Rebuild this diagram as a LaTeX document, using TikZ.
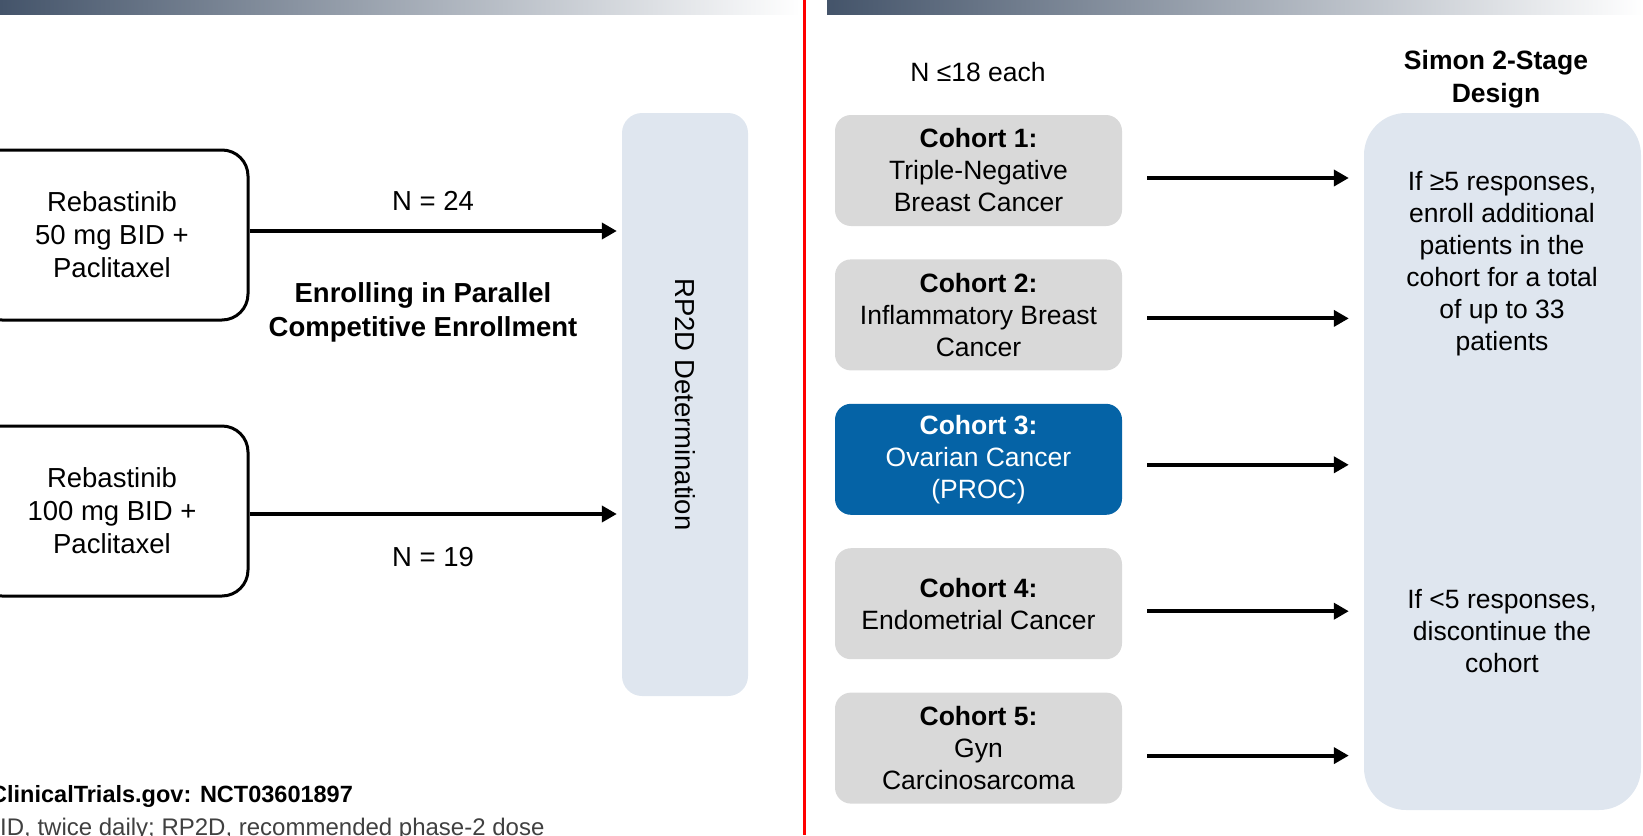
\documentclass[tikz,border=0pt]{standalone}
\usepackage{fontspec}
\setmainfont{Liberation Sans}
\usetikzlibrary{arrows.meta,positioning}
\definecolor{slate}{RGB}{68,84,106}
\definecolor{panel}{RGB}{223,230,239}
\definecolor{cohortgray}{RGB}{217,217,217}
\definecolor{cohortblue}{RGB}{5,99,166}
\definecolor{notegray}{RGB}{64,64,64}
\tikzset{
  armbox/.style={draw=black, line width=3pt, rounded corners=26pt, minimum width=272pt, minimum height=170pt, align=center, font=\fontsize{27.5}{33}\selectfont},
  cohort/.style={fill=cohortgray, rounded corners=16pt, minimum width=287pt, minimum height=111pt, align=center, font=\fontsize{26.5}{32}\selectfont},
  panelbox/.style={fill=panel, inner sep=0pt},
  arr/.style={line width=4pt, -{Triangle[length=15pt,width=16pt]}},
  lbl/.style={font=\fontsize{27.5}{33}\selectfont, align=center},
  rlbl/.style={font=\fontsize{26.5}{32}\selectfont, align=center},
}
\begin{document}
\begin{tikzpicture}[x=1pt,y=-1pt]
\useasboundingbox (0,0) rectangle (1643,835);
%\draw[step=50,gray,very thin] (0,0) grid (1643,835);
% header bars and divider
\shade[left color=slate, right color=white] (0,0) rectangle (800,14);
\shade[left color=slate, right color=white] (827,0) rectangle (1643,14);
\draw[red, line width=3pt] (804,0) -- (804,835);
% left half: dose escalation
\node[armbox] (arm50) at (112,235) {Rebastinib\\50 mg BID +\\Paclitaxel};
\node[armbox] (arm100) at (112,511) {Rebastinib\\100 mg BID +\\Paclitaxel};
\node[panelbox, rounded corners=20pt, minimum width=126pt, minimum height=583pt] (rp2d) at (685,404.5) {};
\node[lbl, rotate=-90] (rp2dtxt) at (rp2d.center) {RP2D Determination};
\draw[arr, shorten >=5pt] ([yshift=4pt]arm50.east) -- ([yshift=4pt]arm50.east -| rp2d.west);
\draw[arr, shorten >=5pt] ([yshift=-3pt]arm100.east) -- ([yshift=-3pt]arm100.east -| rp2d.west);
\node[lbl] (n24) at (433,201) {N = 24};
\node[lbl] (n19) at (433,557) {N = 19};
\node[lbl, font=\bfseries\fontsize{27.5}{34}\selectfont] (parallel) at (423,312) {Enrolling in Parallel\\Competitive Enrollment};
\node[anchor=west, inner sep=0pt, font=\bfseries\fontsize{23.5}{28}\selectfont] (trial) at (-10,796) {ClinicalTrials.gov: NCT03601897};
\node[anchor=west, inner sep=0pt, text=notegray, font=\fontsize{24}{28}\selectfont] (abbr) at (-16,829) {BID, twice daily; RP2D, recommended phase-2 dose};
% right half: expansion cohorts
\node[rlbl] (neach) at (978,72) {N ≤18 each};
\node[rlbl, font=\bfseries\fontsize{26.5}{33}\selectfont] (simonhd) at (1496,79) {Simon 2-Stage\\Design};
\node[panelbox, rounded corners=42pt, minimum width=277pt, minimum height=697pt] (simon) at (1502.5,461.5) {};
\node[cohort] (c1) at (978.5,170.5) {\textbf{Cohort 1:}\\Triple-Negative\\Breast Cancer};
\node[cohort, below=33pt of c1] (c2) {\textbf{Cohort 2:}\\Inflammatory Breast\\Cancer};
\node[cohort, below=33pt of c2, fill=cohortblue, text=white] (c3) {\textbf{Cohort 3:}\\Ovarian Cancer\\(PROC)};
\node[cohort, below=33pt of c3] (c4) {\textbf{Cohort 4:}\\Endometrial Cancer};
\node[cohort, below=33pt of c4] (c5) {\textbf{Cohort 5:}\\Gyn\\Carcinosarcoma};
\draw[arr, shorten <=25pt, shorten >=15pt] ([yshift=-7.5pt]c1.east) -- ([yshift=-7.5pt]c1.east -| simon.west);
\draw[arr, shorten <=25pt, shorten >=15pt] ([yshift=-3.5pt]c2.east) -- ([yshift=-3.5pt]c2.east -| simon.west);
\draw[arr, shorten <=25pt, shorten >=15pt] ([yshift=-5.5pt]c3.east) -- ([yshift=-5.5pt]c3.east -| simon.west);
\draw[arr, shorten <=25pt, shorten >=15pt] ([yshift=-7.5pt]c4.east) -- ([yshift=-7.5pt]c4.east -| simon.west);
\draw[arr, shorten <=25pt, shorten >=15pt] ([yshift=-7.5pt]c5.east) -- ([yshift=-7.5pt]c5.east -| simon.west);
\node[rlbl] (respyes) at (1502,263.5) {If ≥5 responses,\\enroll additional\\patients in the\\cohort for a total\\of up to 33\\patients};
\node[rlbl] (respno) at (1502,631) {If <5 responses,\\discontinue the\\cohort};
\end{tikzpicture}
\end{document}
